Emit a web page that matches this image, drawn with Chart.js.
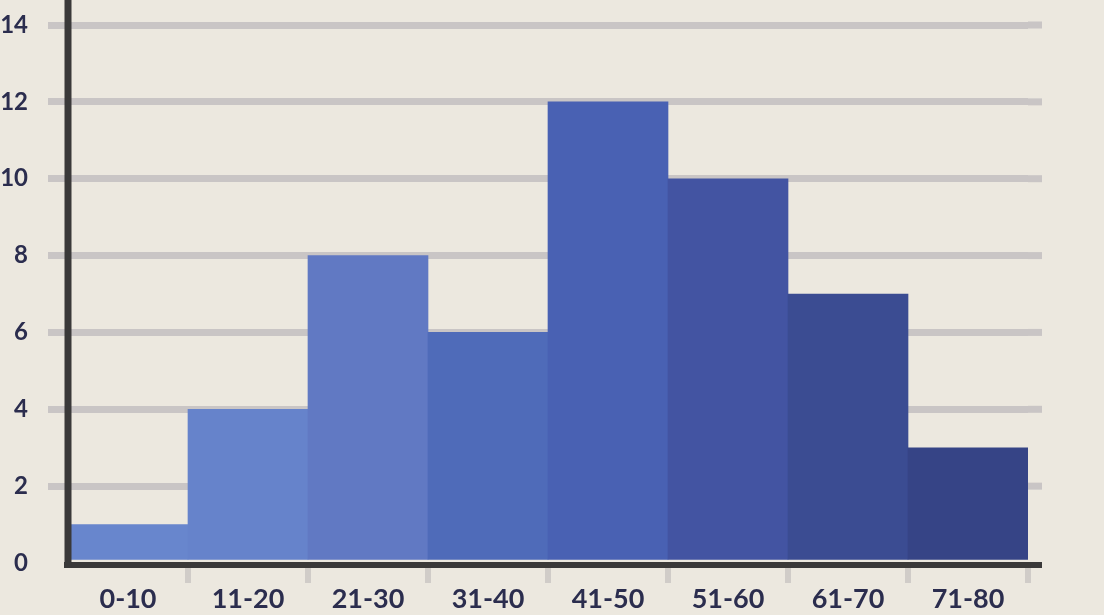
<!DOCTYPE html>
<html>
<head>
<meta charset="utf-8">
<script src="https://cdn.jsdelivr.net/npm/chart.js@4.4.1/dist/chart.umd.min.js"></script>
<style>
  html, body { margin: 0; padding: 0; background: #ece8df; }
  canvas { display: block; }
</style>
</head>
<body>
<canvas id="canvas" width="1104" height="615"></canvas>
<script>
// Datos del histograma
const rangos = ["0-10", "11-20", "21-30", "31-40", "41-50", "51-60", "61-70", "71-80"];
const frecuencias = [1, 4, 8, 6, 12, 10, 7, 3];
const coloresBarras = ["#6886cd", "#6683cb", "#6179c3", "#4f6bb9", "#4961b3", "#4354a2", "#3b4c92", "#364486"];
const ticksY = [0, 2, 4, 6, 8, 10, 12, 14];

const colorTexto = "#2b2d4e";
const colorEje = "#3a3939";
const colorRejilla = "#c9c5c5";

// Ejes gruesos y extension de la rejilla a la derecha
const ejesPlugin = {
    id: "ejes",
    beforeDatasetsDraw(chart) {
        const { ctx, chartArea, scales } = chart;
        ctx.save();
        ctx.strokeStyle = colorRejilla;
        ctx.lineWidth = 7;
        ticksY.forEach(v => {
            if (v === 0) return;
            const py = scales.y.getPixelForValue(v);
            ctx.beginPath();
            ctx.moveTo(chartArea.right, py);
            ctx.lineTo(chartArea.right + 14, py);
            ctx.stroke();
        });
        ctx.restore();
    },
    afterDatasetsDraw(chart) {
        const { ctx, chartArea } = chart;
        ctx.save();
        ctx.strokeStyle = colorEje;
        // eje x
        ctx.lineWidth = 6;
        ctx.beginPath();
        ctx.moveTo(chartArea.left - 4, chartArea.bottom + 2);
        ctx.lineTo(chartArea.right + 14, chartArea.bottom + 2);
        ctx.stroke();
        // eje y
        ctx.lineWidth = 7;
        ctx.beginPath();
        ctx.moveTo(chartArea.left, 0);
        ctx.lineTo(chartArea.left, chartArea.bottom + 5);
        ctx.stroke();
        ctx.restore();
    }
};

const grafica = new Chart(document.getElementById("canvas").getContext("2d"), {
    type: "bar",
    data: {
        labels: rangos,
        datasets: [{
            data: frecuencias,
            backgroundColor: coloresBarras,
            borderWidth: 0,
            barPercentage: 1,
            categoryPercentage: 1
        }]
    },
    options: {
        responsive: false,
        animation: false,
        devicePixelRatio: 1,
        layout: { padding: { top: 25, right: 76, left: 0, bottom: 0 } },
        plugins: { legend: { display: false }, tooltip: { enabled: false } },
        scales: {
            x: {
                offset: true,
                border: { display: false },
                grid: {
                    offset: true,
                    drawOnChartArea: false,
                    tickLength: 20,
                    lineWidth: 6,
                    color: c => c.index === 0 ? "rgba(0,0,0,0)" : "#d0ccc8"
                },
                ticks: {
                    color: colorTexto,
                    padding: 0,
                    font: { family: "Lato", size: 27, weight: "bold" }
                },
                afterFit: s => { s.height = 52; s.paddingLeft = 0; s.paddingRight = 0; }
            },
            y: {
                min: 0,
                max: 14,
                border: { display: false },
                afterBuildTicks: s => { s.ticks = ticksY.map(v => ({ value: v })); },
                grid: {
                    lineWidth: 7,
                    color: c => (c.tick && c.tick.value === 0) ? "rgba(0,0,0,0)" : colorRejilla,
                    tickLength: 20
                },
                ticks: {
                    color: colorTexto,
                    padding: 20,
                    font: { family: "Lato", size: 24, weight: "bold" }
                },
                afterFit: s => { s.width = 68; s.paddingTop = 0; s.paddingBottom = 0; }
            }
        }
    },
    plugins: [ejesPlugin]
});
</script>
</body>
</html>
